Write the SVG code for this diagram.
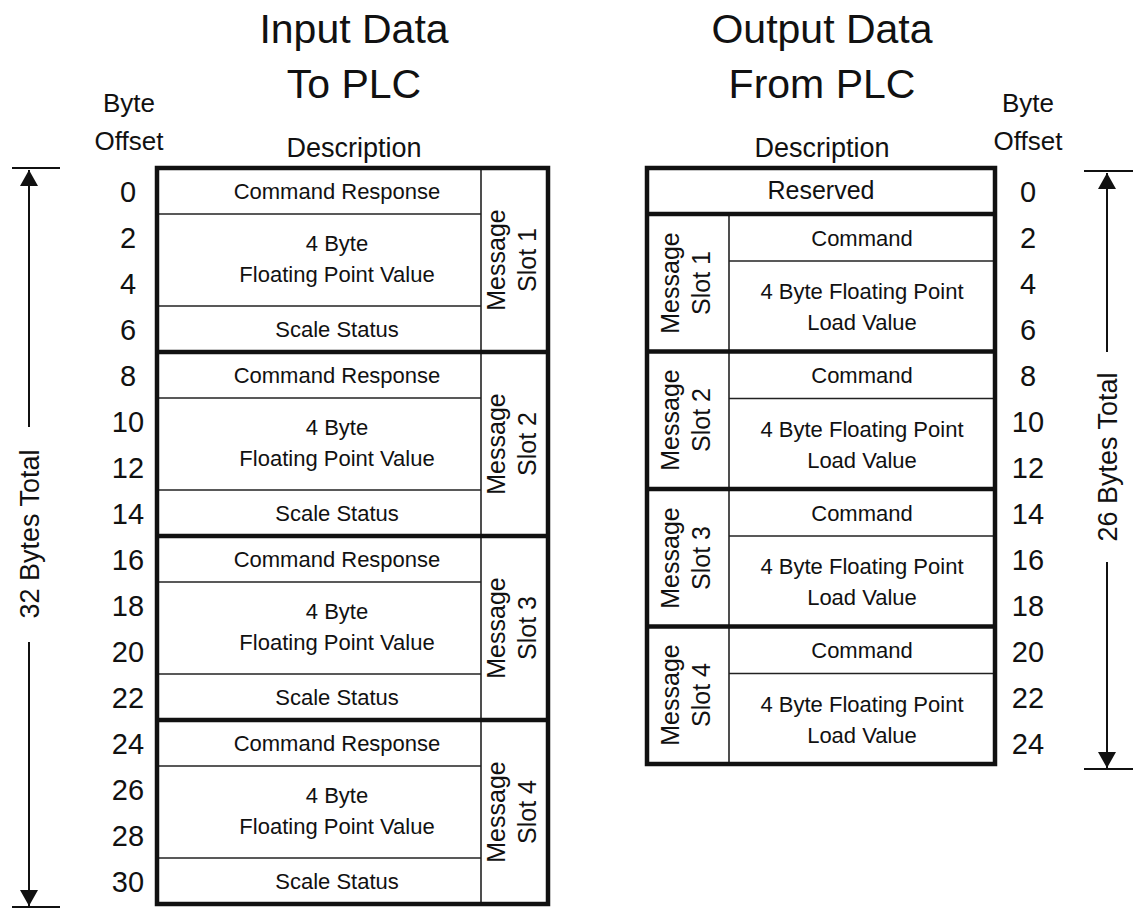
<svg xmlns="http://www.w3.org/2000/svg" width="1139" height="909" viewBox="0 0 1139 909">
<style>
text{font-family:"Liberation Sans",Arial,sans-serif;fill:#111;text-anchor:middle}
.title{font-size:41px}
.hdr{font-size:26px}
.desc{font-size:27px}
.num{font-size:29px}
.cell{font-size:22px}
.slot{font-size:25px}
.tot{font-size:27px}
.thick{stroke:#111;stroke-width:4.5;fill:none}
.thin{stroke:#222;stroke-width:1.6;fill:none}
.dim{stroke:#111;stroke-width:2;fill:none}
</style>
<defs>
<marker id="ah" viewBox="0 0 16 18" refX="16" refY="9" markerWidth="16" markerHeight="18" markerUnits="userSpaceOnUse" orient="auto">
<path d="M0,0 L16,9 L0,18 z" fill="#111"/>
</marker>
</defs>
<rect width="1139" height="909" fill="#fff"/>

<g id="left-title">
<text class="title" x="354" y="43">Input Data</text>
<text class="title" x="354" y="98">To PLC</text>
<text class="hdr" x="129" y="112">Byte</text>
<text class="hdr" x="129" y="150">Offset</text>
<text class="desc" x="354" y="157">Description</text>
</g>

<g id="right-title">
<text class="title" x="822" y="43">Output Data</text>
<text class="title" x="822" y="98">From PLC</text>
<text class="hdr" x="1028" y="112">Byte</text>
<text class="hdr" x="1028" y="150">Offset</text>
<text class="desc" x="822" y="157">Description</text>
</g>

<g id="left-table">
<line class="thin" x1="481" y1="168" x2="481" y2="904"/>
<line class="thin" x1="157" y1="214" x2="481" y2="214"/>
<line class="thin" x1="157" y1="306" x2="481" y2="306"/>
<line class="thin" x1="157" y1="398" x2="481" y2="398"/>
<line class="thin" x1="157" y1="490" x2="481" y2="490"/>
<line class="thin" x1="157" y1="582" x2="481" y2="582"/>
<line class="thin" x1="157" y1="674" x2="481" y2="674"/>
<line class="thin" x1="157" y1="766" x2="481" y2="766"/>
<line class="thin" x1="157" y1="858" x2="481" y2="858"/>
<line class="thick" x1="157" y1="352" x2="548" y2="352"/>
<line class="thick" x1="157" y1="536" x2="548" y2="536"/>
<line class="thick" x1="157" y1="720" x2="548" y2="720"/>
<rect class="thick" x="157" y="168" width="391" height="736"/>
</g>

<g id="left-slot-1">
<text class="cell" x="337" y="199">Command Response</text>
<text class="cell" x="337" y="251">4 Byte</text>
<text class="cell" x="337" y="282">Floating Point Value</text>
<text class="cell" x="337" y="337">Scale Status</text>
<text class="slot" transform="translate(514,260) rotate(-90)"><tspan x="0" y="-9">Message</tspan><tspan x="0" y="22">Slot 1</tspan></text>
</g>
<g id="left-slot-2">
<text class="cell" x="337" y="383">Command Response</text>
<text class="cell" x="337" y="435">4 Byte</text>
<text class="cell" x="337" y="466">Floating Point Value</text>
<text class="cell" x="337" y="521">Scale Status</text>
<text class="slot" transform="translate(514,444) rotate(-90)"><tspan x="0" y="-9">Message</tspan><tspan x="0" y="22">Slot 2</tspan></text>
</g>
<g id="left-slot-3">
<text class="cell" x="337" y="567">Command Response</text>
<text class="cell" x="337" y="619">4 Byte</text>
<text class="cell" x="337" y="650">Floating Point Value</text>
<text class="cell" x="337" y="705">Scale Status</text>
<text class="slot" transform="translate(514,628) rotate(-90)"><tspan x="0" y="-9">Message</tspan><tspan x="0" y="22">Slot 3</tspan></text>
</g>
<g id="left-slot-4">
<text class="cell" x="337" y="751">Command Response</text>
<text class="cell" x="337" y="803">4 Byte</text>
<text class="cell" x="337" y="834">Floating Point Value</text>
<text class="cell" x="337" y="889">Scale Status</text>
<text class="slot" transform="translate(514,812) rotate(-90)"><tspan x="0" y="-9">Message</tspan><tspan x="0" y="22">Slot 4</tspan></text>
</g>

<g id="left-offsets">
<text class="num" x="128" y="202">0</text>
<text class="num" x="128" y="248">2</text>
<text class="num" x="128" y="294">4</text>
<text class="num" x="128" y="340">6</text>
<text class="num" x="128" y="386">8</text>
<text class="num" x="128" y="432">10</text>
<text class="num" x="128" y="478">12</text>
<text class="num" x="128" y="524">14</text>
<text class="num" x="128" y="570">16</text>
<text class="num" x="128" y="616">18</text>
<text class="num" x="128" y="662">20</text>
<text class="num" x="128" y="708">22</text>
<text class="num" x="128" y="754">24</text>
<text class="num" x="128" y="800">26</text>
<text class="num" x="128" y="846">28</text>
<text class="num" x="128" y="892">30</text>
</g>

<g id="right-table">
<line class="thin" x1="729" y1="214" x2="729" y2="764"/>
<line class="thin" x1="729" y1="261" x2="995" y2="261"/>
<line class="thin" x1="729" y1="398.5" x2="995" y2="398.5"/>
<line class="thin" x1="729" y1="536" x2="995" y2="536"/>
<line class="thin" x1="729" y1="673.5" x2="995" y2="673.5"/>
<line class="thick" x1="647" y1="214" x2="995" y2="214"/>
<line class="thick" x1="647" y1="351.5" x2="995" y2="351.5"/>
<line class="thick" x1="647" y1="489" x2="995" y2="489"/>
<line class="thick" x1="647" y1="626.5" x2="995" y2="626.5"/>
<rect class="thick" x="647" y="168" width="348" height="596"/>
</g>

<g id="right-reserved">
<text class="cell" x="821" y="199" style="font-size:25px">Reserved</text>
</g>
<g id="right-slot-1">
<text class="cell" x="862" y="245.5">Command</text>
<text class="cell" x="862" y="299">4 Byte Floating Point</text>
<text class="cell" x="862" y="330">Load Value</text>
<text class="slot" transform="translate(688,283) rotate(-90)"><tspan x="0" y="-9">Message</tspan><tspan x="0" y="22">Slot 1</tspan></text>
</g>
<g id="right-slot-2">
<text class="cell" x="862" y="383">Command</text>
<text class="cell" x="862" y="436.5">4 Byte Floating Point</text>
<text class="cell" x="862" y="467.5">Load Value</text>
<text class="slot" transform="translate(688,420) rotate(-90)"><tspan x="0" y="-9">Message</tspan><tspan x="0" y="22">Slot 2</tspan></text>
</g>
<g id="right-slot-3">
<text class="cell" x="862" y="520.5">Command</text>
<text class="cell" x="862" y="574">4 Byte Floating Point</text>
<text class="cell" x="862" y="605">Load Value</text>
<text class="slot" transform="translate(688,558) rotate(-90)"><tspan x="0" y="-9">Message</tspan><tspan x="0" y="22">Slot 3</tspan></text>
</g>
<g id="right-slot-4">
<text class="cell" x="862" y="658">Command</text>
<text class="cell" x="862" y="711.5">4 Byte Floating Point</text>
<text class="cell" x="862" y="742.5">Load Value</text>
<text class="slot" transform="translate(688,695) rotate(-90)"><tspan x="0" y="-9">Message</tspan><tspan x="0" y="22">Slot 4</tspan></text>
</g>

<g id="right-offsets">
<text class="num" x="1028" y="202">0</text>
<text class="num" x="1028" y="248">2</text>
<text class="num" x="1028" y="294">4</text>
<text class="num" x="1028" y="340">6</text>
<text class="num" x="1028" y="386">8</text>
<text class="num" x="1028" y="432">10</text>
<text class="num" x="1028" y="478">12</text>
<text class="num" x="1028" y="524">14</text>
<text class="num" x="1028" y="570">16</text>
<text class="num" x="1028" y="616">18</text>
<text class="num" x="1028" y="662">20</text>
<text class="num" x="1028" y="708">22</text>
<text class="num" x="1028" y="754">24</text>
</g>

<g id="connectors">
<line class="dim" x1="12" y1="168" x2="60" y2="168"/>
<line class="dim" x1="12" y1="907" x2="60" y2="907"/>
<line class="dim" x1="29" y1="427" x2="29" y2="170" marker-end="url(#ah)"/>
<line class="dim" x1="29" y1="642" x2="29" y2="906" marker-end="url(#ah)"/>
<line class="dim" x1="1084" y1="171" x2="1133" y2="171"/>
<line class="dim" x1="1084" y1="769" x2="1133" y2="769"/>
<line class="dim" x1="1107" y1="352" x2="1107" y2="173" marker-end="url(#ah)"/>
<line class="dim" x1="1107" y1="562" x2="1107" y2="768" marker-end="url(#ah)"/>
</g>
<g id="left-total">
<text class="tot" transform="translate(29,534) rotate(-90)" y="10">32 Bytes Total</text>
</g>
<g id="right-total">
<text class="tot" transform="translate(1107,457) rotate(-90)" y="10">26 Bytes Total</text>
</g>
</svg>
